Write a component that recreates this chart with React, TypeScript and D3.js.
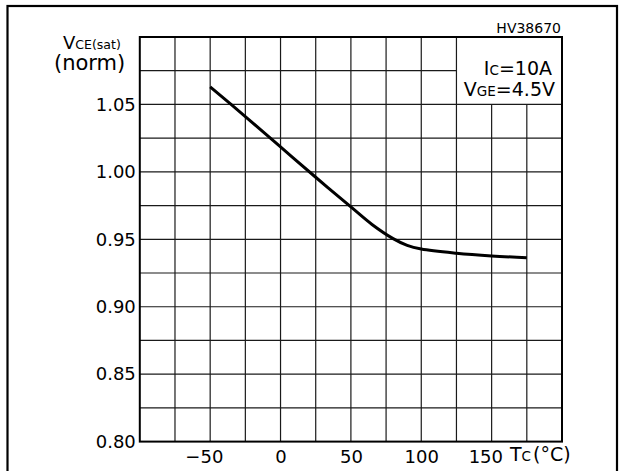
import { axisBottom, axisLeft, curveCatmullRom, line as d3Line, scaleLinear, select } from "d3";
import { useEffect, useRef } from "react";

// case temperature (°C) and normalized VCE(sat)
const tcValues = [-50, -25, 0, 25, 50, 65, 80, 90, 100, 125, 150, 175];
const vceValues = [1.063, 1.041, 1.0185, 0.996, 0.974, 0.961, 0.9505, 0.9455, 0.9428, 0.9397, 0.9377, 0.9364];

const xTickLabels = [-50, 0, 50, 100, 150];
const yTickLabels = [0.8, 0.85, 0.9, 0.95, 1.0, 1.05];
const xGrid = [-75, -50, -25, 0, 25, 50, 75, 100, 125, 150, 175];
const yGrid = [0.825, 0.85, 0.875, 0.9, 0.925, 0.95, 0.975, 1.0, 1.025, 1.05, 1.075];

const WIDTH = 623;
const HEIGHT = 471;
const PLOT = { left: 139.8, right: 562, top: 37, bottom: 441.6 };
const FONT = "DejaVu Sans, sans-serif";

const App = () => {
  const svgElem = useRef<SVGSVGElement>(null);

  useEffect(() => {
    if (!svgElem.current) {
      return;
    }
    const svg = select(svgElem.current);
    svg.selectAll("*").remove();

    const xScale = scaleLinear().domain([-100, 200]).range([PLOT.left, PLOT.right]);
    const yScale = scaleLinear().domain([0.8, 1.1]).range([PLOT.bottom, PLOT.top]);

    // outer frame
    svg
      .append("rect")
      .attr("x", 7.5)
      .attr("y", 6)
      .attr("width", 609.5)
      .attr("height", 480)
      .attr("fill", "none")
      .attr("stroke", "#000")
      .attr("stroke-width", 2.2);

    // legend box area (grid is blanked there)
    const legendX0 = xScale(125);
    const legendY1 = yScale(1.05);

    // vertical grid
    const grid = svg.append("g");
    xGrid.forEach((t) => {
      const x = xScale(t);
      const yTop = t > 125 ? legendY1 : PLOT.top;
      grid
        .append("line")
        .attr("x1", x)
        .attr("x2", x)
        .attr("y1", yTop)
        .attr("y2", PLOT.bottom)
        .attr("stroke", "#1a1a1a")
        .attr("stroke-width", 1.2);
    });
    // horizontal grid
    yGrid.forEach((v) => {
      const y = yScale(v);
      const xRight = v > 1.05 ? legendX0 : PLOT.right;
      grid
        .append("line")
        .attr("x1", PLOT.left)
        .attr("x2", xRight)
        .attr("y1", y)
        .attr("y2", y)
        .attr("stroke", "#1a1a1a")
        .attr("stroke-width", 1.2);
    });

    // plot border
    svg
      .append("rect")
      .attr("x", PLOT.left)
      .attr("y", PLOT.top)
      .attr("width", PLOT.right - PLOT.left)
      .attr("height", PLOT.bottom - PLOT.top)
      .attr("fill", "none")
      .attr("stroke", "#000")
      .attr("stroke-width", 2);

    // y axis labels
    const yAxis = axisLeft(yScale)
      .tickValues(yTickLabels)
      .tickSize(0)
      .tickPadding(4)
      .tickFormat((d) => (d as number).toFixed(2));
    const yG = svg.append("g").attr("transform", `translate(${PLOT.left}, 0)`);
    // @ts-expect-error: d3 typings
    yG.call(yAxis);
    yG.select(".domain").remove();
    yG.selectAll("text")
      .style("font-family", FONT)
      .style("font-size", "18px")
      .attr("fill", "#000");

    // x axis labels
    const xAxis = axisBottom(xScale)
      .tickValues(xTickLabels)
      .tickSize(0)
      .tickPadding(9)
      .tickFormat((d) => ((d as number) < 0 ? `\u2212${Math.abs(d as number)}` : `${d}`));
    const xG = svg.append("g").attr("transform", `translate(0, ${PLOT.bottom})`);
    // @ts-expect-error: d3 typings
    xG.call(xAxis);
    xG.select(".domain").remove();
    xG.selectAll("text")
      .style("font-family", FONT)
      .style("font-size", "18px")
      .attr("fill", "#000")
      .attr("dx", (d) => ((d as number) < 0 || (d as number) === 150 ? "-0.35em" : "0"));

    // x axis title Tc(°C)
    const xt = svg
      .append("text")
      .attr("x", 510)
      .attr("y", 461)
      .style("font-family", FONT)
      .style("font-size", "19px");
    xt.append("tspan").text("T");
    xt.append("tspan").style("font-size", "13.5px").text("C");
    xt.append("tspan").attr("dx", 2).text("(°C)");

    // y axis title VCE(sat) (norm)
    const yt = svg
      .append("text")
      .attr("x", 63)
      .attr("y", 49)
      .style("font-family", FONT)
      .style("font-size", "18px");
    yt.append("tspan").text("V");
    yt.append("tspan").style("font-size", "12.5px").text("CE(sat)");
    svg
      .append("text")
      .attr("x", 54)
      .attr("y", 70)
      .style("font-family", FONT)
      .style("font-size", "21px")
      .text("(norm)");

    // part number
    svg
      .append("text")
      .attr("x", 561)
      .attr("y", 33)
      .attr("text-anchor", "end")
      .style("font-family", FONT)
      .style("font-size", "14px")
      .text("HV38670");

    // conditions legend
    const l1 = svg
      .append("text")
      .attr("x", 552)
      .attr("y", 75)
      .attr("text-anchor", "end")
      .style("font-family", FONT)
      .style("font-size", "19px");
    l1.append("tspan").text("I");
    l1.append("tspan").style("font-size", "13.5px").text("C");
    l1.append("tspan").text("=10A");
    const l2 = svg
      .append("text")
      .attr("x", 555)
      .attr("y", 96)
      .attr("text-anchor", "end")
      .style("font-family", FONT)
      .style("font-size", "19px");
    l2.append("tspan").text("V");
    l2.append("tspan").style("font-size", "13.5px").text("GE");
    l2.append("tspan").text("=4.5V");

    // curve
    const line = d3Line<number>()
      .x((_, i) => xScale(tcValues[i]))
      .y((v) => yScale(v))
      .curve(curveCatmullRom);
    svg
      .append("path")
      .attr("d", line(vceValues))
      .attr("fill", "none")
      .attr("stroke", "#000")
      .attr("stroke-width", 3);
  }, []);

  return (
    <svg
      ref={svgElem}
      width={WIDTH}
      height={HEIGHT}
      style={{ position: "absolute", left: 0, top: 0, background: "#fff" }}
    />
  );
};

export default App;
